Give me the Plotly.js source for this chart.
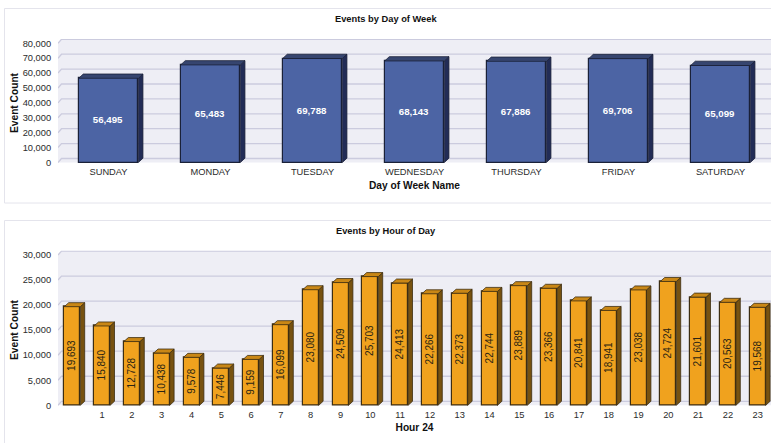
<!DOCTYPE html>
<html>
<head>
<meta charset="utf-8">
<script src="https://cdn.plot.ly/plotly-3.0.1.min.js"></script>
<style>html,body{margin:0;padding:0;background:#fff}</style>
</head>
<body>
<div id="chart" style="width:771px;height:443px"></div>
<script>
const days = ["SUNDAY","MONDAY","TUESDAY","WEDNESDAY","THURSDAY","FRIDAY","SATURDAY"];
const dayCounts = [56495,65483,69788,68143,67886,69706,65099];
const hourLabels = ["","1","2","3","4","5","6","7","8","9","10","11","12","13","14","15","16","17","18","19","20","21","22","23"];
const hourCounts = [19693,15840,12728,10438,9578,7446,9159,16099,23080,24509,25703,24413,22266,22373,22744,23889,23366,20841,18941,23038,24724,21601,20563,19568];
const dayTicks = [0,10000,20000,30000,40000,50000,60000,70000,80000];
const hourTicks = [0,5000,10000,15000,20000,25000,30000];

const W = 771, H = 443;
const FONT = '"Liberation Sans", Arial, sans-serif';
const INK = '#2b2b2b';

function addPanel(cfg) {
  const xRange = [(cfg.left - cfg.x0) / cfg.step, (W - cfg.x0) / cfg.step];
  const yRange = [(cfg.base - cfg.bottom) / cfg.pxPerUnit, (cfg.base - cfg.top) / cfg.pxPerUnit];
  const dxBar = cfg.depthX / cfg.step, dyBar = cfg.depthY / cfg.pxPerUnit;
  const dxWall = cfg.wallX / cfg.step, dyWall = cfg.wallY / cfg.pxPerUnit;
  const idx = cfg.values.map((_, i) => i);
  const half = cfg.barWidth / 2;
  const maxTick = cfg.ticks[cfg.ticks.length - 1];
  const xa = 'x' + cfg.n, ya = 'y' + cfg.n;

  const shapes = [];
  shapes.push({
    type: 'path', xref: xa, yref: ya, layer: 'below', fillcolor: cfg.wall, line: {width: 0},
    path: `M${xRange[0]},0 L${xRange[0]},${maxTick} L${xRange[0] + dxWall},${maxTick + dyWall} L${xRange[1]},${maxTick + dyWall} L${xRange[1]},0 Z`
  });
  cfg.ticks.forEach(v => {
    shapes.push({
      type: 'path', xref: xa, yref: ya, layer: 'below', line: {color: cfg.grid, width: 1.3},
      path: `M${xRange[0]},${v} L${xRange[0] + dxWall},${v + dyWall} L${xRange[1]},${v + dyWall}`
    });
  });

  const traces = [];
  const sx = [], sy = [], tx = [], ty = [];
  cfg.values.forEach((v, i) => {
    const r = i + half, l = i - half;
    sx.push(r, r + dxBar, r + dxBar, r, r, null);
    sy.push(0, dyBar, v + dyBar, v, 0, null);
    tx.push(l, l + dxBar, r + dxBar, r, l, null);
    ty.push(v, v + dyBar, v + dyBar, v, v, null);
  });
  traces.push({
    type: 'bar', xaxis: xa, yaxis: ya, x: idx, y: cfg.values, width: cfg.barWidth, showlegend: false,
    marker: {color: cfg.front, line: {color: cfg.edge, width: 1.2}},
    text: cfg.values.map(v => v.toLocaleString('en-US')),
    textposition: 'inside', insidetextanchor: 'middle', textangle: cfg.textAngle,
    constraintext: 'none', cliponaxis: false,
    insidetextfont: cfg.valueFont, hovertemplate: '%{text}<extra></extra>'
  });
  traces.push({
    type: 'scatter', mode: 'lines', xaxis: xa, yaxis: ya, hoverinfo: 'skip', showlegend: false,
    x: sx, y: sy, fill: 'toself', fillcolor: cfg.side, line: {color: cfg.edge, width: 0.8}
  });
  traces.push({
    type: 'scatter', mode: 'lines', xaxis: xa, yaxis: ya, hoverinfo: 'skip', showlegend: false,
    x: tx, y: ty, fill: 'toself', fillcolor: cfg.topFace, line: {color: cfg.edge, width: 0.8}
  });

  const xAxis = {
    domain: [cfg.left / W, 1], range: xRange, anchor: ya, showgrid: false, zeroline: false, showline: false,
    tickmode: 'array', tickvals: idx, ticktext: cfg.labels, ticks: '', ticklabelstandoff: -2,
    tickangle: 0, tickfont: {family: FONT, size: 9.3, color: INK},
    title: {text: cfg.xTitle, font: {family: FONT, size: 10.2, color: '#111'}, standoff: cfg.xTitleGap}
  };
  const yAxis = {
    domain: [1 - cfg.bottom / H, 1 - cfg.top / H], range: yRange, anchor: xa, showgrid: false, zeroline: false, showline: false,
    tickmode: 'array', tickvals: cfg.ticks, ticktext: cfg.ticks.map(v => v.toLocaleString('en-US')),
    ticks: 'outside', ticklen: 4, tickcolor: 'rgba(0,0,0,0)',
    tickfont: {family: FONT, size: 9.3, color: INK},
    title: {text: '<b>Event Count</b>', font: {family: FONT, size: 10.2, color: '#111'}, standoff: 1.5}
  };
  return {traces, xAxis, yAxis, shapes};
}

const dayPanel = addPanel({
  n: '', values: dayCounts, labels: days, ticks: dayTicks, xTitle: '<b>Day of Week Name</b>',
  left: 58, top: 39, bottom: 167, base: 162.5, pxPerUnit: 0.00149, x0: 108.5, step: 102, barWidth: 0.585,
  depthX: 4.6, depthY: 4.3, wallX: 3.5, wallY: 4,
  wall: '#eeeef5', grid: '#cbcbde', front: '#4c64a4', side: '#222c56', topFace: '#36456f', edge: '#1a2138',
  textAngle: 0, valueFont: {family: FONT, size: 9.7, color: '#fff', weight: 'bold'},
  xTitleGap: 5
});
const hourPanel = addPanel({
  n: '2', values: hourCounts, labels: hourLabels, ticks: hourTicks, xTitle: '<b>Hour 24</b>',
  left: 58, top: 250.5, bottom: 409.5, base: 405.3, pxPerUnit: 0.005008, x0: 72.3, step: 29.8, barWidth: 0.537,
  depthX: 4.4, depthY: 4, wallX: 3.5, wallY: 4,
  wall: '#eeeef5', grid: '#cbcbde', front: '#f0a21e', side: '#775210', topFace: '#c98716', edge: '#3c2d12',
  textAngle: -90, valueFont: {family: FONT, size: 10, color: '#2a2413'},
  xTitleGap: 5
});

const panelFrames = [
  {type: 'rect', xref: 'paper', yref: 'paper', x0: 4.5 / W, x1: 1.02, y0: 1 - 203 / H, y1: 1 - 8.5 / H, line: {color: '#e4e4ec', width: 1}, fillcolor: '#fff', layer: 'below'},
  {type: 'rect', xref: 'paper', yref: 'paper', x0: 4.5 / W, x1: 1.02, y0: -0.02, y1: 1 - 220.5 / H, line: {color: '#e4e4ec', width: 1}, fillcolor: '#fff', layer: 'below'}
];

const layout = {
  width: W, height: H, autosize: false,
  margin: {l: 0, r: 0, t: 0, b: 0},
  paper_bgcolor: '#fff', plot_bgcolor: 'rgba(0,0,0,0)',
  showlegend: false, bargap: 0,
  xaxis: dayPanel.xAxis, yaxis: dayPanel.yAxis, xaxis2: hourPanel.xAxis, yaxis2: hourPanel.yAxis,
  shapes: panelFrames.concat(dayPanel.shapes, hourPanel.shapes),
  annotations: [
    {text: '<b>Events by Day of Week</b>', xref: 'paper', yref: 'paper', x: 386 / W, y: 1 - 19 / H, xanchor: 'center', yanchor: 'middle', showarrow: false, font: {family: FONT, size: 9.3, color: '#111'}},
    {text: '<b>Events by Hour of Day</b>', xref: 'paper', yref: 'paper', x: 386 / W, y: 1 - 231 / H, xanchor: 'center', yanchor: 'middle', showarrow: false, font: {family: FONT, size: 9.3, color: '#111'}}
  ]
};

Plotly.newPlot('chart', dayPanel.traces.concat(hourPanel.traces), layout, {displayModeBar: false, responsive: false});
</script>
</body>
</html>
